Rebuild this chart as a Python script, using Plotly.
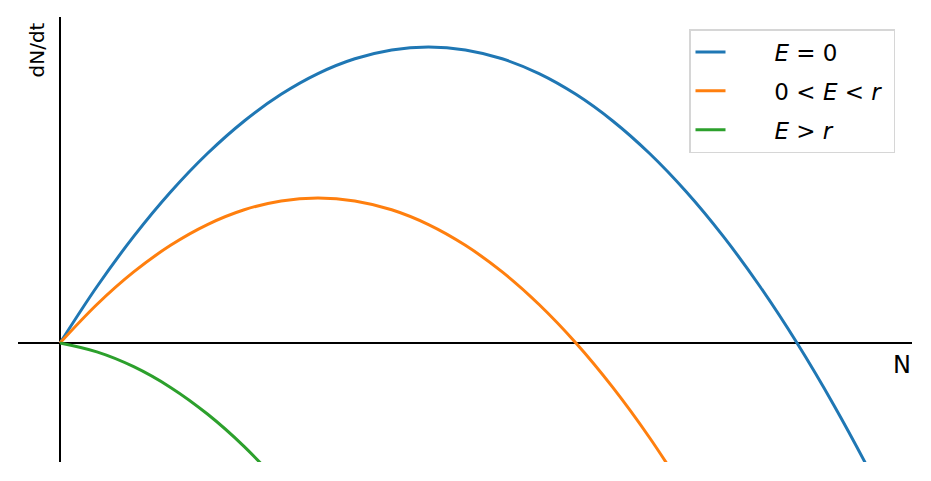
import plotly.graph_objects as go

# Population N (relative to carrying capacity K)
N_values = [0.0, 0.05, 0.1, 0.15, 0.2, 0.25, 0.3, 0.35, 0.4, 0.45, 0.5, 0.55,
            0.6, 0.65, 0.7, 0.75, 0.8, 0.85, 0.9, 0.95, 1.0, 1.05, 1.1, 1.15]

# dN/dt for E = 0
growth_E0 = [0.0, 0.0475, 0.09, 0.1275, 0.16, 0.1875, 0.21, 0.2275, 0.24, 0.2475,
             0.25, 0.2475, 0.24, 0.2275, 0.21, 0.1875, 0.16, 0.1275, 0.09, 0.0475,
             0.0, -0.0525, -0.11, -0.1725]
# dN/dt for 0 < E < r
growth_mid = [0.0, 0.0325, 0.06, 0.0825, 0.1, 0.1125, 0.12, 0.1225, 0.12, 0.1125,
              0.1, 0.0825, 0.06, 0.0325, 0.0, -0.0375, -0.08, -0.1275]
# dN/dt for E > r
growth_high = [0.0, -0.0075, -0.02, -0.0375, -0.06, -0.0875, -0.12]

legend_labels = ["<i>E</i> = 0", "0 &lt; <i>E</i> &lt; <i>r</i>", "<i>E</i> &gt; <i>r</i>"]
colors = ["#1f77b4", "#ff7f0e", "#2ca02c"]
series_values = [growth_E0, growth_mid, growth_high]

PAD = "&nbsp;" * 6

fig = go.Figure()
for i, (name, vals, color) in enumerate(zip(legend_labels, series_values, colors)):
    fig.add_trace(go.Scatter(
        x=N_values[:len(vals)], y=vals, mode="lines", name=PAD + name + "&nbsp;",
        line=dict(color=color, width=3, shape="spline"),
        legendgroup=f"g{i}",
    ))

# page has an 8px body margin; compensate so the plot area lands at 18..912 x 17..462
W, H = 923, 473
ml, mt, mr, mb = 10, 9, 19, 19
pw, ph = W - ml - mr, H - mt - mb

def px(xp):
    return (xp - 8 - ml) / pw

def py(yp):
    return 1 - (yp - 8 - mt) / ph

fig.update_layout(
    width=W, height=H,
    margin=dict(l=ml, r=mr, t=mt, b=mb),
    paper_bgcolor="white", plot_bgcolor="white",
    font=dict(family="DejaVu Sans", size=20, color="black"),
    showlegend=True,
    legend=dict(
        x=px(689), y=py(29), xanchor="left", yanchor="top",
        bgcolor="rgba(255,255,255,0.8)", bordercolor="#d6d6d6", borderwidth=1.5,
        font=dict(family="DejaVu Sans", size=23),
        tracegroupgap=6,
    ),
    xaxis=dict(range=[-0.057, 1.156], showgrid=False, showticklabels=False,
               ticks="", zeroline=True, zerolinecolor="black", zerolinewidth=1.6,
               showline=False),
    yaxis=dict(range=[-0.1005, 0.2753], showgrid=False, showticklabels=False,
               ticks="", zeroline=True, zerolinecolor="black", zerolinewidth=1.6,
               showline=False),
    annotations=[
        dict(text="dN/dt", xref="paper", yref="paper", x=px(36.5), y=py(50),
             showarrow=False, textangle=-90, font=dict(size=20, family="DejaVu Sans"),
             xanchor="center", yanchor="middle"),
        dict(text="N", xref="paper", yref="paper", x=px(902), y=py(365),
             showarrow=False, font=dict(size=24, family="DejaVu Sans"),
             xanchor="center", yanchor="middle"),
    ],
)

fig.write_html("out.html")
